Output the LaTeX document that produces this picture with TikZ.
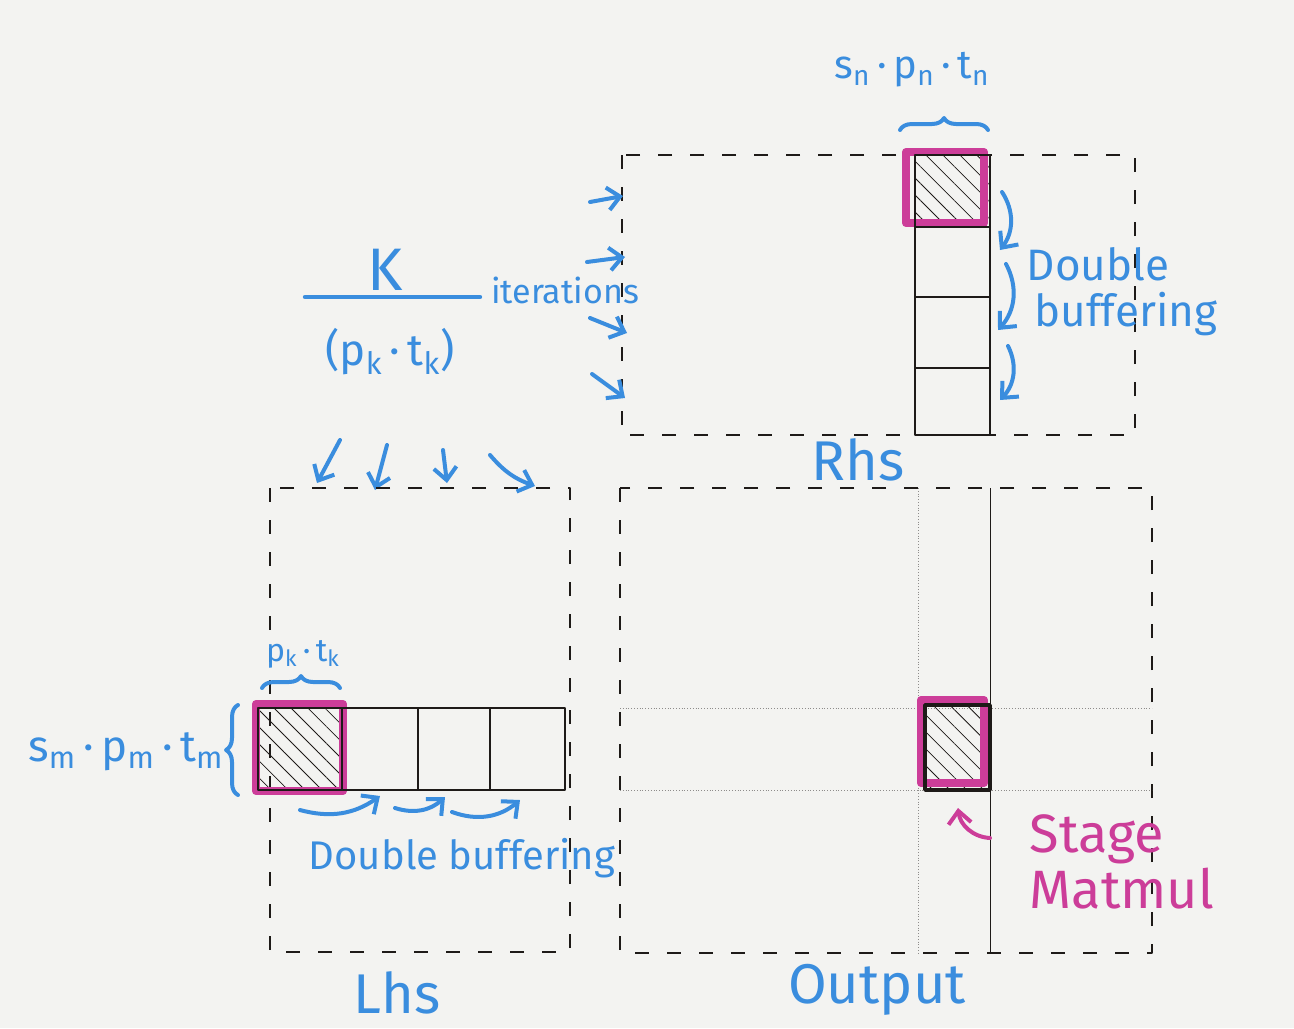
\documentclass[tikz,border=0pt]{standalone}
\usepackage{fontspec}
\setmainfont{Fira Sans}
\usetikzlibrary{arrows.meta,positioning,calc,patterns.meta,decorations.pathreplacing}
\definecolor{Pen}{HTML}{3A8DDE}
\definecolor{Marker}{HTML}{CC3D99}
\definecolor{Ink}{HTML}{1E1A18}
\definecolor{Paper}{HTML}{F3F3F1}
\tikzset{
  frame/.style={draw=Ink,line width=0.6pt,dash pattern=on 7pt off 9pt},
  tile/.style={draw=Ink,line width=1.4pt},
  grid/.style={draw=Ink!50,line width=0.4pt,densely dotted},
  hatch/.style={pattern={Lines[angle=-45,distance=6pt,line width=0.4pt]},pattern color=Ink},
  hl/.style={draw=Marker,line width=4pt,line join=round},
  hand/.style={text=Pen,inner sep=1pt,font=\fontsize{#1}{#1}\selectfont},
  pink/.style={text=Marker,inner sep=1pt,font=\fontsize{#1}{#1}\selectfont},
  parr/.style={-{Straight Barb[length=2.2mm,width=4mm]},line width=2pt,draw=Pen,line cap=round},
  marr/.style={-{Straight Barb[length=2.2mm,width=4mm]},line width=2pt,draw=Marker,line cap=round},
  brc/.style={decorate,decoration={brace,amplitude=6pt},line width=2pt,draw=Pen,line cap=round},
}
\newcommand{\tsub}[2]{#1\textsubscript{#2}}

\begin{document}
\begin{tikzpicture}[x=0.5pt,y=-0.5pt,line join=round]
\fill[Paper] (0,0) rectangle (1294,1028);
\useasboundingbox (0,0) rectangle (1294,1028);
% Rhs
\draw[frame] (622,155) rectangle (1135,435);
\fill[hatch] (915,155) rectangle (990,227);
\draw[hl] (906,152) rectangle (984,223);
\draw[tile] (915,155) rectangle (990,435) (915,227) -- (990,227) (915,297) -- (990,297) (915,368) -- (990,368);
\node[hand=28] (rhs) at (858,460) {Rhs};
\draw[brc] (900,130) -- (988,130);
\node[hand=20] (sn) at (912,70) {\tsub{s}{n}\,·\,\tsub{p}{n}\,·\,\tsub{t}{n}};
\coordinate (r1) at (1002,192); \coordinate (r2) at (1000,250);
\coordinate (r3) at (1006,264); \coordinate (r4) at (998,330);
\coordinate (r5) at (1008,346); \coordinate (r6) at (1000,400);
\draw[parr] (r1) to[bend left=35] (r2);
\draw[parr] (r3) to[bend left=35] (r4);
\draw[parr] (r5) to[bend left=35] (r6);
\node[hand=22,align=left] (dbr) at (1122,292) {Double\\[1pt]\,buffering};
% K / (pk tk) iterations
\coordinate (fa) at (305,297); \coordinate (fb) at (480,297);
\draw[Pen,line width=2.2pt,line cap=round] (fa) -- (fb);
\node[hand=30] (kk) at (385,270) {K};
\node[hand=22] (pk) at (390,352) {(\tsub{p}{k}\,·\,\tsub{t}{k})};
\node[hand=17] (iter) at (565,290) {iterations};
\coordinate (ia1) at (590,202); \coordinate (ib1) at (623,196);
\coordinate (ia2) at (587,262); \coordinate (ib2) at (625,257);
\coordinate (ia3) at (590,318); \coordinate (ib3) at (627,333);
\coordinate (ia4) at (592,374); \coordinate (ib4) at (625,398);
\draw[parr] (ia1) -- (ib1); \draw[parr] (ia2) -- (ib2);
\draw[parr] (ia3) -- (ib3); \draw[parr] (ia4) -- (ib4);
\coordinate (da1) at (340,440); \coordinate (db1) at (317,483);
\coordinate (da2) at (387,445); \coordinate (db2) at (375,490);
\coordinate (da3) at (443,450); \coordinate (db3) at (447,483);
\coordinate (da4) at (490,455); \coordinate (db4) at (535,486);
\draw[parr] (da1) -- (db1); \draw[parr] (da2) -- (db2);
\draw[parr] (da3) -- (db3); \draw[parr] (da4) to[bend right=15] (db4);
% Lhs
\draw[frame] (270,488) rectangle (570,952);
\fill[hatch] (258,708) rectangle (342,790);
\draw[hl] (256,704) rectangle (343,791);
\draw[tile] (258,708) rectangle (565,790) (342,708) -- (342,790) (418,708) -- (418,790) (490,708) -- (490,790);
\node[hand=28] (lhs) at (397,993) {Lhs};
\draw[brc] (262,688) -- (340,688);
\node[hand=16] (pt) at (303,654) {\tsub{p}{k}\,·\,\tsub{t}{k}};
\draw[brc] (238,795) -- (238,705);
\node[hand=22] (sm) at (126,752) {\tsub{s}{m}\,·\,\tsub{p}{m}\,·\,\tsub{t}{m}};
\coordinate (b1) at (300,810); \coordinate (b2) at (380,796);
\coordinate (b3) at (395,808); \coordinate (b4) at (445,797);
\coordinate (b5) at (452,812); \coordinate (b6) at (520,800);
\draw[parr] (b1) to[bend right=25] (b2);
\draw[parr] (b3) to[bend right=30] (b4);
\draw[parr] (b5) to[bend right=30] (b6);
\node[hand=20] (dbl) at (462,858) {Double buffering};
% Output
\draw[frame] (620,488) rectangle (1152,953);
\draw[grid] (918,488) -- (918,953) (620,708) -- (1152,708) (620,790) -- (1152,790);
\draw[Ink,line width=0.5pt] (990,488) -- (990,953);
\fill[hatch] (925,705) rectangle (990,790);
\draw[hl] (921,700) rectangle (984,783);
\draw[tile,line width=1.8pt] (925,705) rectangle (990,790);
\node[hand=28] (out) at (877,990) {Output};
\coordinate (s1) at (990,838); \coordinate (s2) at (958,808);
\draw[marr] (s1) to[bend left=40] (s2);
\node[pink=27,align=left] (stage) at (1122,862) {Stage\\[1pt]Matmul};
\end{tikzpicture}
\end{document}
